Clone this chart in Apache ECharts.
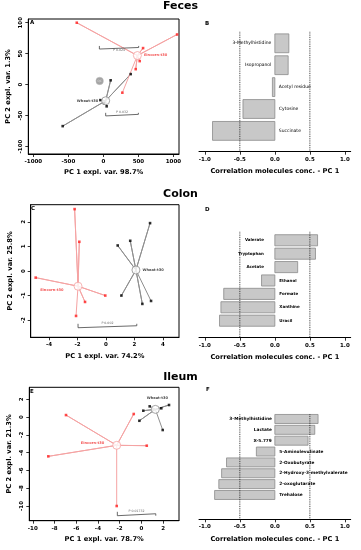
<!DOCTYPE html>
<html><head><meta charset="utf-8">
<script src="https://cdn.jsdelivr.net/npm/echarts@6/dist/echarts.min.js"></script>
<style>html,body{margin:0;padding:0;background:#fff}#c{width:361px;height:550px}</style>
</head><body><div id="c"></div>
<script>
// ================= DATA =================
// Panel A – Feces PCA scores
const fecesEincorn = [[-380,100],[1053,81],[567,59],[519,38],[462,25],[271,-13]];
const fecesEincornCentroid = [486,47];
const fecesWheat = [[-581,-67],[104,7],[390,17],[-43,-25],[10,-30],[47,-35]];
const fecesWheatCentroid = [33,-26];
const fecesQC = [[-53,6]];
const fecesP1 = [-57, 504, 60, 'P 0.024'];
const fecesP2 = [33, 500, -48, 'P 0.032'];
const ticksAx = [-1000,-500,0,500,1000];
const ticksAy = [-100,-50,0,50,100];
// Panel C – Colon PCA scores
const colonEincorn = [[-2.2,2.52],[-1.87,1.19],[-4.93,-0.27],[-0.05,-1.0],[-1.47,-1.26],[-2.1,-1.83]];
const colonEincornCentroid = [-1.96,-0.62];
const colonWheat = [[3.09,1.95],[1.7,1.23],[0.82,1.04],[1.08,-1.0],[2.55,-1.34],[3.16,-1.22]];
const colonWheatCentroid = [2.1,0.04];
const colonP = [-1.96, 2.16, -2.23, 'P 0.002'];
const ticksCx = [-4,-2,0,2,4];
const ticksCy = [-2,-1,0,1,2];
// Panel E – Ileum PCA scores
const ileumEincorn = [[-6.94,0.22],[-0.7,0.34],[-8.57,-4.42],[0.5,-3.22],[-2.27,-10.0]];
const ileumEincornCentroid = [-2.27,-3.18];
const ileumWheat = [[0.18,0.71],[-0.18,-0.42],[0.77,1.2],[1.84,0.98],[2.55,1.35],[1.97,-1.46]];
const ileumWheatCentroid = [1.29,0.86];
const ileumP = [-2.21, 1.33, -10.87, 'P 0.01732'];
const ticksEx = [-10,-8,-6,-4,-2,0,2];
const ticksEy = [-10,-8,-6,-4,-2,0,2];
// Correlation bar panels
const fecesMolecules = ['3-Methylhistidine','Isopropanol','Acetyl residue','Cytosine','Succinate'];
const fecesCorr = [0.20,0.19,-0.035,-0.455,-0.89];
const colonMolecules = ['Valerate','Tryptophan','Acetate','Ethanol','Formate','Xanthine','Uracil'];
const colonCorr = [0.61,0.58,0.326,-0.19,-0.73,-0.77,-0.79];
const ileumMolecules = ['3-Methylhistidine','Lactate','X-5.779','5-Aminolevulinate','2-Oxobutyrate','2-Hydroxy-3-methylvalerate','2-oxoglutarate','Trehalose'];
const ileumCorr = [0.617,0.57,0.474,-0.264,-0.69,-0.76,-0.80,-0.86];
const ticksBar = [-1,-0.5,0,0.5,1];
const corrThresholds = [-0.5,0.5];

// ================= CHART =================
const FONT = '"DejaVu Sans", Verdana, sans-serif';
const RED = '#ff1f1f', RED_L = '#f5a3a3', BLK = '#000', GRY = '#8f8f8f';

function pcaX(gi, min, max, ticks, name) {
  return {type:'value', gridIndex:gi, min, max, name, nameLocation:'middle', nameGap:15,
    nameTextStyle:{fontFamily:FONT, fontWeight:'bold', fontSize:6.7, color:'#000'},
    axisLine:{show:true, onZero:false, lineStyle:{color:'#000', width:1}},
    axisTick:{show:true, inside:false, length:3, customValues:ticks, lineStyle:{color:'#000', width:0.8}},
    axisLabel:{customValues:ticks, formatter:v=>String(v), fontFamily:FONT, fontWeight:'bold', fontSize:5.5, color:'#000', margin:4.5},
    splitLine:{show:false}};
}
function pcaY(gi, min, max, ticks, name) {
  return {type:'value', gridIndex:gi, min, max, name, nameLocation:'middle', nameGap:16.5,
    nameTextStyle:{fontFamily:FONT, fontWeight:'bold', fontSize:6.7, color:'#000'},
    axisLine:{show:true, onZero:false, lineStyle:{color:'#000', width:1}},
    axisTick:{show:true, inside:false, length:3, customValues:ticks, lineStyle:{color:'#000', width:0.8}},
    axisLabel:{customValues:ticks, rotate:90, formatter:v=>String(v), fontFamily:FONT, fontWeight:'bold', fontSize:5.5, color:'#000', margin:4.5},
    splitLine:{show:false}};
}
function barX(gi, name) {
  return {type:'value', gridIndex:gi, min:-1.083, max:1.083, name, nameLocation:'middle', nameGap:16,
    nameTextStyle:{fontFamily:FONT, fontWeight:'bold', fontSize:6.7, color:'#000'},
    axisLine:{show:true, onZero:false, lineStyle:{color:'#000', width:1}},
    axisTick:{show:true, inside:false, length:3, customValues:ticksBar, lineStyle:{color:'#000', width:0.8}},
    axisLabel:{customValues:ticksBar, formatter:v=>v.toFixed(1), fontFamily:FONT, fontWeight:'bold', fontSize:5.5, color:'#000', margin:4.5},
    splitLine:{show:false}};
}
function barY(gi, min, max) {
  return {type:'value', gridIndex:gi, min, max, inverse:true, show:false, splitLine:{show:false}};
}
function pcaGroup(gi, pts, c, color, lineColor, text, lab) {
  const spokes = [];
  pts.forEach(p => { spokes.push(c, p); });
  return [
    {type:'line', xAxisIndex:gi, yAxisIndex:gi, data:spokes, symbol:'none', lineStyle:{color:lineColor, width:1}, z:2},
    {type:'scatter', xAxisIndex:gi, yAxisIndex:gi, data:pts, symbol:'rect', symbolSize:2.6, itemStyle:{color}, z:3},
    {type:'scatter', xAxisIndex:gi, yAxisIndex:gi, data:[c], symbol:'circle', symbolSize:8,
      itemStyle:{color:'#fff', borderColor:lineColor, borderWidth:1}, z:4,
      label:Object.assign({show:true, formatter:text, fontFamily:FONT, fontWeight:'bold', fontSize:3.6, color: color===RED?'#f02a2a':'#111'}, lab)}
  ];
}
function bracket(gi, b, tick, pos) {
  const [x1,x2,y,text] = b;
  return [
    {type:'line', xAxisIndex:gi, yAxisIndex:gi, data:[[x1,y+tick],[x1,y-tick],[x1,y],[x2,y],[x2,y+tick],[x2,y-tick]],
      symbol:'none', lineStyle:{color:'#444', width:0.8}, z:2},
    {type:'scatter', xAxisIndex:gi, yAxisIndex:gi, data:[[(x1+x2)/2, y]], symbolSize:1, itemStyle:{color:'rgba(0,0,0,0)'}, z:2,
      label:{show:true, formatter:text, position:pos, distance:0.5, fontFamily:FONT, fontSize:3.2, color:'#444'}}
  ];
}
function barPanel(gi, names, vals, ymin, ymax, frac, font, gapPos, gapNeg) {
  const data = vals.map((v,i)=>[v,i]);
  const out = [{type:'custom', xAxisIndex:gi, yAxisIndex:gi, data, encode:{x:0, y:1}, z:2,
    renderItem:(params, api)=>{
      const v = api.value(0), i = api.value(1);
      const p0 = api.coord([0,i]), p1 = api.coord([v,i]);
      const h = api.size([0, frac])[1];
      const x = Math.min(p0[0],p1[0]), w = Math.abs(p1[0]-p0[0]);
      return {type:'group', children:[
        {type:'rect', shape:{x, y:p0[1]-h/2, width:w, height:h}, style:{fill:'#c8c8c8', stroke:'#8a8a8a', lineWidth:0.8}},
        {type:'text', x: v>=0 ? p0[0]-gapPos : p0[0]+gapNeg, y:p0[1],
          style:{text:names[params.dataIndex], align: v>=0?'right':'left', verticalAlign:'middle', font, fill:'#000'}}
      ]};
    }}];
  corrThresholds.forEach(t => out.push({type:'line', xAxisIndex:gi, yAxisIndex:gi, data:[[t,ymin],[t,ymax]], symbol:'none',
    lineStyle:{type:'dotted', color:'#222', width:0.9}, z:5}));
  return out;
}

const grids = [
  {left:28.3, top:19, width:150.7, height:135},
  {left:199, top:31.7, width:151.7, height:120},
  {left:30.7, top:204.7, width:148.3, height:132.6},
  {left:199, top:231.7, width:151.7, height:106},
  {left:29.3, top:387.3, width:149.7, height:133.4},
  {left:199, top:414.3, width:151.7, height:105}
].map((g,i)=> Object.assign(g, i%2===0 ? {show:true, borderColor:'#000', borderWidth:1, backgroundColor:'transparent'} : {show:false}));

const xAxes = [
  pcaX(0, -1072, 1080, ticksAx, 'PC 1 expl. var. 98.7%'),
  barX(1, 'Correlation molecules conc. - PC 1'),
  pcaX(2, -5.28, 5.12, ticksCx, 'PC 1 expl. var. 74.2%'),
  barX(3, 'Correlation molecules conc. - PC 1'),
  pcaX(4, -10.32, 3.47, ticksEx, 'PC 1 expl. var. 78.7%'),
  barX(5, 'Correlation molecules conc. - PC 1')
];
const yAxes = [
  pcaY(0, -112, 106, ticksAy, 'PC 2 expl. var. 1.3%'),
  barY(1, -0.53, 4.95),
  pcaY(2, -2.7, 2.7, ticksCy, 'PC 2 expl. var. 25.8%'),
  barY(3, -0.64, 7.27),
  pcaY(4, -11.65, 3.34, ticksEy, 'PC 2 expl. var. 21.3%'),
  barY(5, -0.43, 9.24)
];

const series = [].concat(
  pcaGroup(0, fecesWheat, fecesWheatCentroid, BLK, GRY, 'Wheat-t30', {position:'left', distance:3}),
  pcaGroup(0, fecesEincorn, fecesEincornCentroid, RED, RED_L, 'Eincorn-t30', {position:'right', distance:2}),
  [{type:'scatter', xAxisIndex:0, yAxisIndex:0, data:fecesQC, symbol:'circle', symbolSize:7.5, z:4,
    itemStyle:{color:'#8c8c8c', borderColor:'#bbb', borderWidth:0.6},
    label:{show:true, position:'inside', formatter:'QC', fontFamily:FONT, fontSize:3, color:'#e8e8e8'}}],
  bracket(0, fecesP1, 2.5, 'bottom'),
  bracket(0, fecesP2, 2.5, 'top'),
  barPanel(1, fecesMolecules, fecesCorr, -0.53, 4.95, 0.86, 'normal 4.5px "DejaVu Sans"', 3.5, 4),
  pcaGroup(2, colonWheat, colonWheatCentroid, BLK, GRY, 'Wheat-t30', {position:'right', distance:2}),
  pcaGroup(2, colonEincorn, colonEincornCentroid, RED, RED_L, 'Eincorn-t30', {position:'left', distance:10, offset:[0,4]}),
  bracket(2, colonP, 0.08, 'top'),
  barPanel(3, colonMolecules, colonCorr, -0.64, 7.27, 0.83, 'bold 4px "DejaVu Sans"', 11, 4.5),
  pcaGroup(4, ileumWheat, ileumWheatCentroid, BLK, GRY, 'Wheat-t30', {position:'top', distance:5, offset:[2,0]}),
  pcaGroup(4, ileumEincorn, ileumEincornCentroid, RED, RED_L, 'Eincorn-t30', {position:'left', distance:8, offset:[0,-2]}),
  bracket(4, ileumP, 0.22, 'top'),
  barPanel(5, ileumMolecules, ileumCorr, -0.43, 9.24, 0.83, 'bold 4.3px "DejaVu Sans"', 3, 4.5)
);

const tStyle = {fontFamily:FONT, fontWeight:'bold', fontSize:11, color:'#000'};
const lStyle = {fontFamily:FONT, fontWeight:'bold', fontSize:5.5, color:'#000'};
const titles = [
  {text:'Feces', left:'center', top:1, padding:0, textStyle:tStyle},
  {text:'Colon', left:'center', top:188.5, padding:0, textStyle:tStyle},
  {text:'Ileum', left:'center', top:371.8, padding:0, textStyle:tStyle},
  {text:'A', left:30, top:19.5, padding:0, textStyle:lStyle},
  {text:'B', left:205, top:20.5, padding:0, textStyle:lStyle},
  {text:'C', left:31, top:205.5, padding:0, textStyle:lStyle},
  {text:'D', left:205, top:206.5, padding:0, textStyle:lStyle},
  {text:'E', left:30, top:388.5, padding:0, textStyle:lStyle},
  {text:'F', left:206, top:386.5, padding:0, textStyle:lStyle}
];

const chart = echarts.init(document.getElementById('c'), null, {renderer:'canvas'});
chart.setOption({animation:false, backgroundColor:'#fff', title:titles, grid:grids, xAxis:xAxes, yAxis:yAxes, series});
</script></body></html>
